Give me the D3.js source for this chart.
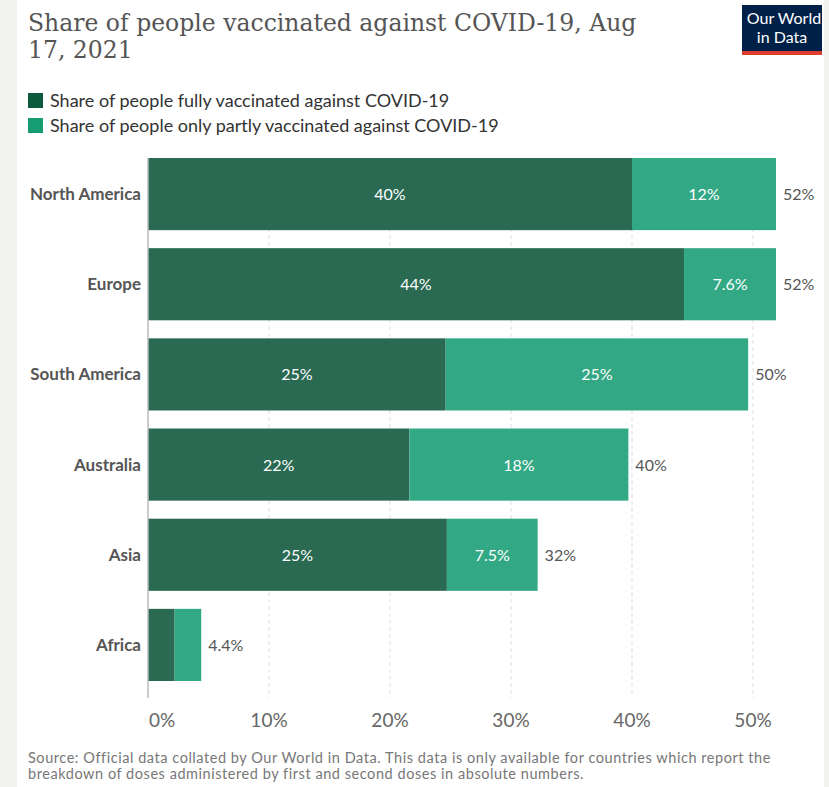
<!DOCTYPE html>
<html>
<head>
<meta charset="utf-8">
<style>
  body { margin: 0; background: #f2f2ee; }
  svg { display: block; }
</style>
</head>
<body>
<svg width="829" height="787"></svg>
<script src="https://d3js.org/d3.v7.min.js"></script>
<script>

var regions = ["North America", "Europe", "South America", "Australia", "Asia", "Africa"];
var fully = [40.0, 44.3, 24.6, 21.6, 24.7, 2.2];
var partly = [11.9, 7.6, 25.0, 18.1, 7.5, 2.2];
var fullyLabels = ["40%", "44%", "25%", "22%", "25%", ""];
var partlyLabels = ["12%", "7.6%", "25%", "18%", "7.5%", ""];
var totalLabels = ["52%", "52%", "50%", "40%", "32%", "4.4%"];
var ticks = [0, 10, 20, 30, 40, 50];

var svg = d3.select("svg");

// page card
svg.append("rect").attr("x", 17).attr("y", 0).attr("width", 807).attr("height", 787).attr("fill", "#fff");

svg.append("text")
    .attr("x", 28).attr("y", 31)
    .attr("font-family", "DejaVu Serif").attr("font-size", 23.5).attr("fill", "#555")
    .text("Share of people vaccinated against COVID-19, Aug");
svg.append("text")
    .attr("x", 28).attr("y", 58)
    .attr("font-family", "DejaVu Serif").attr("font-size", 23.5).attr("fill", "#555")
    .text("17, 2021");

// logo
svg.append("rect").attr("x", 742).attr("y", 5).attr("width", 80).attr("height", 46).attr("fill", "#002147");
svg.append("rect").attr("x", 742).attr("y", 51).attr("width", 80).attr("height", 4).attr("fill", "#dc3d2e");
svg.append("text").attr("x", 784).attr("y", 24).attr("text-anchor", "middle")
    .attr("font-family", "Lato").attr("font-size", 16).attr("fill", "#fff").text("Our World");
svg.append("text").attr("x", 782).attr("y", 43).attr("text-anchor", "middle")
    .attr("font-family", "Lato").attr("font-size", 16).attr("fill", "#fff").text("in Data");

// legend
var legend = [["Share of people fully vaccinated against COVID-19", "#0a5a3b"],
              ["Share of people only partly vaccinated against COVID-19", "#169c72"]];
legend.forEach(function(d, i) {
  svg.append("rect").attr("x", 28).attr("y", 93 + i * 25).attr("width", 15).attr("height", 15).attr("fill", d[1]);
  svg.append("text").attr("x", 50).attr("y", 107 + i * 25)
      .attr("font-family", "Lato").attr("font-size", 18).attr("fill", "#333").text(d[0]);
});

var x = d3.scaleLinear().domain([0, 50]).range([148, 753]);
var y = d3.scaleBand().domain(regions).range([158, 681]).paddingInner(0.2).paddingOuter(0);

var g = svg.append("g");

// grid
g.selectAll(".grid").data(ticks.slice(1)).enter().append("line")
    .attr("x1", function(d) { return x(d); }).attr("x2", function(d) { return x(d); })
    .attr("y1", 158).attr("y2", 698)
    .attr("stroke", "#ddd").attr("stroke-dasharray", "4,3");

var rows = regions.map(function(r, i) {
  return {region: r, fully: fully[i], partly: partly[i], fl: fullyLabels[i], pl: partlyLabels[i], tl: totalLabels[i]};
});

g.selectAll(".full").data(rows).enter().append("rect")
    .attr("x", x(0)).attr("y", function(d) { return y(d.region); })
    .attr("width", function(d) { return x(d.fully) - x(0); })
    .attr("height", y.bandwidth())
    .attr("fill", "#2a6952");

g.selectAll(".part").data(rows).enter().append("rect")
    .attr("x", function(d) { return x(d.fully); }).attr("y", function(d) { return y(d.region); })
    .attr("width", function(d) { return x(d.fully + d.partly) - x(d.fully); })
    .attr("height", y.bandwidth())
    .attr("fill", "#32a884");

// zero line
g.append("line").attr("x1", x(0)).attr("x2", x(0)).attr("y1", 158).attr("y2", 698)
    .attr("stroke", "#bbb").attr("stroke-width", 1.5);

g.selectAll(".fl").data(rows).enter().append("text")
    .attr("x", function(d) { return (x(0) + x(d.fully)) / 2; })
    .attr("y", function(d) { return y(d.region) + y.bandwidth() / 2 + 6; })
    .attr("text-anchor", "middle").attr("font-family", "Lato").attr("font-size", 16).attr("fill", "#fff")
    .text(function(d) { return d.fl; });

g.selectAll(".pl").data(rows).enter().append("text")
    .attr("x", function(d) { return (x(d.fully) + x(d.fully + d.partly)) / 2; })
    .attr("y", function(d) { return y(d.region) + y.bandwidth() / 2 + 6; })
    .attr("text-anchor", "middle").attr("font-family", "Lato").attr("font-size", 16).attr("fill", "#fff")
    .text(function(d) { return d.pl; });

g.selectAll(".tl").data(rows).enter().append("text")
    .attr("x", function(d) { return x(d.fully + d.partly) + 7; })
    .attr("y", function(d) { return y(d.region) + y.bandwidth() / 2 + 6; })
    .attr("font-family", "Lato").attr("font-size", 16).attr("fill", "#555")
    .text(function(d) { return d.tl; });

g.selectAll(".cat").data(rows).enter().append("text")
    .attr("x", 141)
    .attr("y", function(d) { return y(d.region) + y.bandwidth() / 2 + 6; })
    .attr("text-anchor", "end").attr("font-family", "Lato").attr("font-weight", "bold")
    .attr("font-size", 17).attr("fill", "#555")
    .text(function(d) { return d.region; });

// x axis labels
g.selectAll(".tick").data(ticks).enter().append("text")
    .attr("x", function(d) { return x(d) + (d === 0 ? 14 : 0); })
    .attr("y", 727)
    .attr("text-anchor", "middle").attr("font-family", "Lato").attr("font-size", 19).attr("fill", "#666")
    .text(function(d) { return d + "%"; });

svg.append("text").attr("x", 28).attr("y", 763)
    .attr("font-family", "Lato").attr("font-size", 14.5).attr("letter-spacing", 0.55).attr("fill", "#777")
    .text("Source: Official data collated by Our World in Data. This data is only available for countries which report the");
svg.append("text").attr("x", 28).attr("y", 779)
    .attr("font-family", "Lato").attr("font-size", 14.5).attr("letter-spacing", 0.55).attr("fill", "#777")
    .text("breakdown of doses administered by first and second doses in absolute numbers.");

</script>
</body>
</html>
